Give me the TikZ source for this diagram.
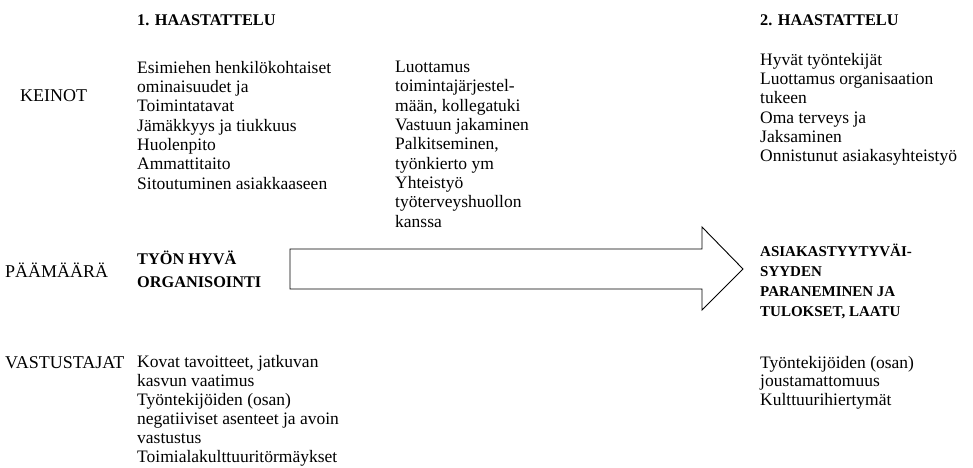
\documentclass[tikz,border=0pt]{standalone}
\usepackage{fontspec}
\setmainfont{Liberation Serif}
\newcommand{\bodyfont}{\fontsize{17.5}{19.3}\selectfont}
\newcommand{\boldfont}{\fontsize{16.3}{23}\selectfont\bfseries}
\begin{document}
\begin{tikzpicture}[x=1pt,y=-1pt,
  lbl/.style={anchor=base west, inner sep=0pt, font=\fontsize{18}{20}\selectfont},
  head/.style={anchor=base west, inner sep=0pt, font=\boldfont},
  block/.style={anchor=north west, inner sep=0pt, align=left, font=\bodyfont,
    execute at begin node={\rule{0pt}{15pt}}},
  bblock/.style={anchor=north west, inner sep=0pt, align=left, font=\boldfont,
    execute at begin node={\rule{0pt}{15pt}}},
  bigarrow/.style={draw=black, line width=0.9pt, line join=miter, fill=white}]
\useasboundingbox (0,0) rectangle (973,467);
% headings
\node[head] (h1) at (137,25) {1. HAASTATTELU};
\node[head] (h2) at (760,25) {2. HAASTATTELU};
% row labels
\node[lbl] (keinot) at (20,101) {KEINOT};
\node[lbl] (paamaara) at (5,277) {PÄÄMÄÄRÄ};
\node[lbl] (vastus) at (5,368) {VASTUSTAJAT};
% keinot columns
\node[block] (k1) at (137,61) {Esimiehen henkilökohtaiset\\ominaisuudet ja\\Toimintatavat\\Jämäkkyys ja tiukkuus\\Huolenpito\\Ammattitaito\\Sitoutuminen asiakkaaseen};
\node[block] (k2) at (395,61) {Luottamus\\toimintajärjestel-\\mään, kollegatuki\\Vastuun jakaminen\\Palkitseminen,\\työnkierto ym\\Yhteistyö\\työterveyshuollon\\kanssa};
\node[block] (k3) at (760,53) {Hyvät työntekijät\\Luottamus organisaation\\tukeen\\Oma terveys ja\\Jaksaminen\\Onnistunut asiakasyhteistyö};
% goals
\node[bblock] (g1) at (137,251) {TYÖN HYVÄ\\ORGANISOINTI};
\node[bblock, font=\fontsize{15}{20}\selectfont\bfseries] (g2) at (760,244) {ASIAKASTYYTYVÄI-\\SYYDEN\\PARANEMINEN JA\\TULOKSET, LAATU};
% opponents
\node[block, font=\fontsize{17.5}{19}\selectfont] (v1) at (137,355) {Kovat tavoitteet, jatkuvan\\kasvun vaatimus\\Työntekijöiden (osan)\\negatiiviset asenteet ja avoin\\vastustus\\Toimialakulttuuritörmäykset};
\node[block, font=\fontsize{17.5}{18.5}\selectfont] (v2) at (760,356) {Työntekijöiden (osan)\\joustamattomuus\\Kulttuurihiertymät};
% big arrow
\draw[bigarrow] (290,249) -- (702,249) -- (702,227) -- (743,269) -- (702,310) -- (702,289) -- (290,289) -- cycle;
\end{tikzpicture}
\end{document}
